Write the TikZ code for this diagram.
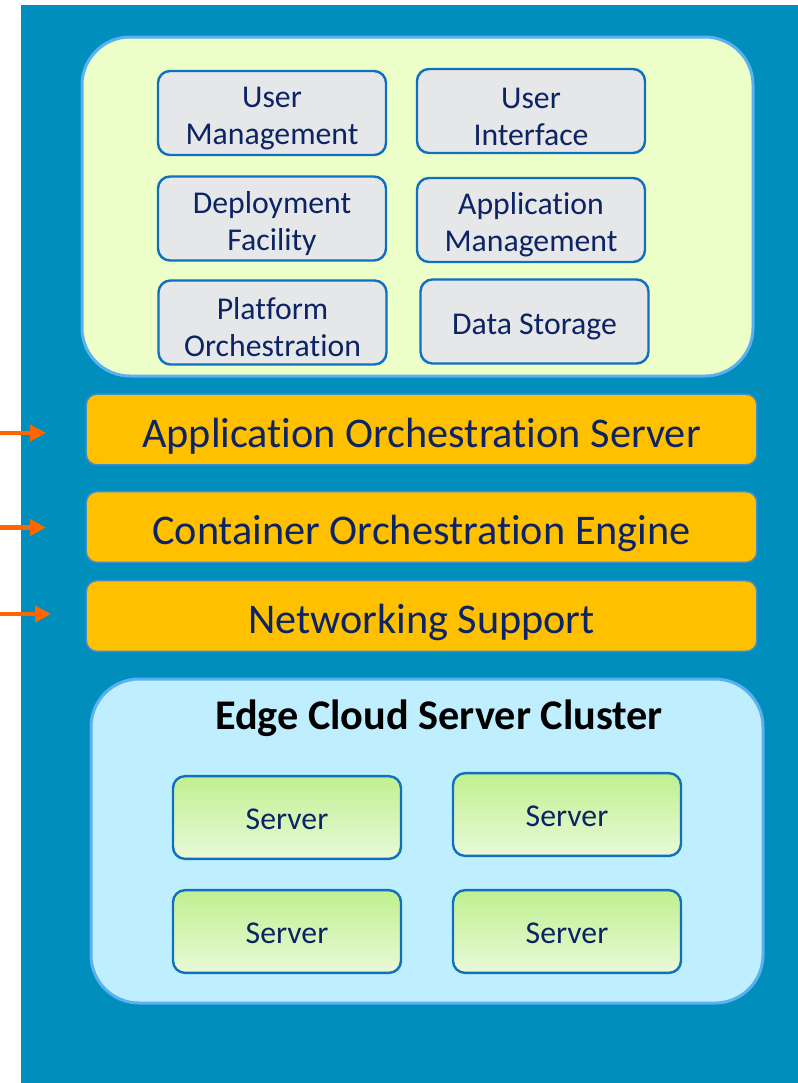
\documentclass[tikz,border=0pt]{standalone}
\usepackage{fontspec}
\setmainfont{Carlito}[RawFeature=-liga,RawFeature=-clig,RawFeature=-calt,RawFeature=-rlig,RawFeature=-ccmp]
\usetikzlibrary{arrows.meta}

\definecolor{bgblue}{RGB}{0,143,189}
\definecolor{panelgreen}{RGB}{236,255,200}
\definecolor{panelcyan}{RGB}{191,239,255}
\definecolor{rimblue}{RGB}{90,176,240}
\definecolor{boxgray}{RGB}{230,231,233}
\definecolor{edgeblue}{RGB}{16,112,192}
\definecolor{navy}{RGB}{12,35,100}
\definecolor{barorange}{RGB}{255,192,0}
\definecolor{arroworange}{RGB}{255,102,0}
\definecolor{srvtop}{RGB}{192,240,144}
\definecolor{srvbot}{RGB}{232,249,216}

% strut that pushes the first line down a little
\newcommand\tup{\rule{0pt}{1em}}

\begin{document}
\begin{tikzpicture}[x=0.75pt,y=-0.75pt,
    panel/.style={draw=rimblue,line width=2.25pt,rounded corners=36pt},
    blockbox/.style={draw=edgeblue,fill=boxgray,line width=1.8pt,rounded corners=9pt,
      minimum width=171pt,minimum height=63pt,align=center,text=navy,
      font=\fontsize{23.8}{27.75}\selectfont},
    layerbar/.style={draw=edgeblue!80,fill=barorange,line width=1.2pt,rounded corners=8pt,
      minimum width=503pt,minimum height=53pt,text=navy,
      font=\fontsize{31.7}{38}\selectfont,execute at begin node={\tup}},
    serverbox/.style={draw=edgeblue,top color=srvtop,bottom color=srvbot,line width=1.8pt,
      rounded corners=9pt,minimum width=171pt,minimum height=62pt,text=navy,
      font=\fontsize{23.8}{27.75}\selectfont,execute at begin node={\rule{0pt}{0.78em}}},
    feed/.style={draw=arroworange,line width=3.5pt,-{Triangle[length=12pt,width=12pt]}}]

  \useasboundingbox (0,0) rectangle (798,1083);
  \fill[bgblue] (21,5) rectangle (798,1083);

  % platform services
  \draw[panel,fill=panelgreen] (82,37) rectangle (753,376);
  \node[blockbox] (usermgmt)  at (272,113)   {\tup User\\Management};
  \node[blockbox] (userif)    at (531,111)   {\tup User\\Interface};
  \node[blockbox] (deploy)    at (272,218.5) {\tup Deployment\\Facility};
  \node[blockbox] (appmgmt)   at (531,220)   {\tup Application\\Management};
  \node[blockbox] (platorch)  at (272.5,322.5) {\tup Platform\\Orchestration};
  \node[blockbox] (storage)   at (534.5,321.5) {\tup Data Storage};

  % layers
  \node[layerbar] (appserver) at (421.5,429.5) {Application Orchestration Server};
  \node[layerbar] (engine)    at (421.5,527)   {Container Orchestration Engine};
  \node[layerbar] (network)   at (421.5,616)   {Networking Support};

  \coordinate (in1) at (0,433);   \coordinate (tip1) at (46,433);
  \coordinate (in2) at (0,527.5); \coordinate (tip2) at (46,527.5);
  \coordinate (in3) at (0,614);   \coordinate (tip3) at (51,614);
  \draw[feed] (in1) -- (tip1);
  \draw[feed] (in2) -- (tip2);
  \draw[feed] (in3) -- (tip3);

  % cluster
  \draw[panel,fill=panelcyan] (91,679) rectangle (763,1003);
  \node[text=black,font=\bfseries\fontsize{31.7}{38}\selectfont] (cluster) at (439,718) {Edge Cloud Server Cluster};
  \node[serverbox] (srv1) at (287,817.5) {Server};
  \node[serverbox] (srv2) at (567,814.5) {Server};
  \node[serverbox] (srv3) at (287,931.5) {Server};
  \node[serverbox] (srv4) at (567,931.5) {Server};
\end{tikzpicture}
\end{document}
